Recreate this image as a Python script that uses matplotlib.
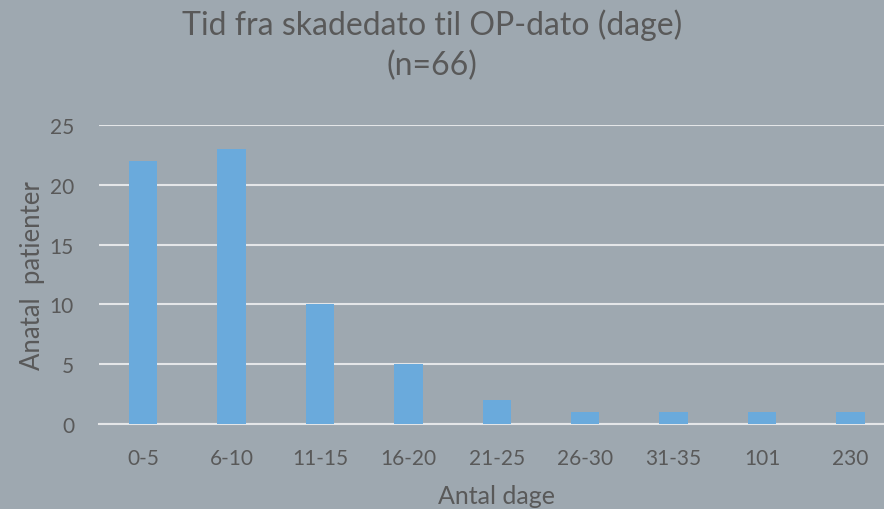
import matplotlib.pyplot as plt

# data
categories = ['0-5', '6-10', '11-15', '16-20', '21-25', '26-30', '31-35', '101', '230']
patients = [22, 23, 10, 5, 2, 1, 1, 1, 1]

bg = '#9ea8b0'
bar_color = '#6aaadc'
text_color = '#595959'

plt.rcParams['font.family'] = ['Lato', 'DejaVu Sans']

fig = plt.figure(figsize=(8.84, 5.10), dpi=100, facecolor=bg)
ax = fig.add_axes([0.112, 0.1667, 0.9, 0.5863], facecolor=bg)

x = range(len(categories))
ax.bar(x, patients, width=0.32, color=bar_color, zorder=3)

ax.set_xlim(-0.5, len(categories) - 0.5)
ax.set_ylim(0, 25)
ax.set_yticks(range(0, 26, 5))
ax.set_xticks(list(x))
ax.set_xticklabels(categories)
ax.grid(axis='y', color='#e4e6e8', linewidth=1.5, zorder=0)
ax.set_axisbelow(True)

for s in ['top', 'right', 'left']:
    ax.spines[s].set_visible(False)
ax.spines['bottom'].set_color('#e4e6e8')
ax.spines['bottom'].set_linewidth(1.5)

ax.tick_params(axis='both', length=0, labelsize=15, labelcolor=text_color)
ax.tick_params(axis='x', pad=17)
ax.tick_params(axis='y', pad=18)

fig.text(497 / 884, 1 - 497 / 510, 'Antal dage', ha='center', va='center',
         fontsize=18, color=text_color)
fig.text(33 / 884, 1 - 276 / 510, 'Anatal  patienter', ha='center', va='center',
         rotation=90, fontsize=18.5, color=text_color)

fig.text(432 / 884, 1 - 35 / 510, 'Tid fra skadedato til OP-dato (dage)',
         ha='center', va='baseline', fontsize=23, color=text_color)
fig.text(432 / 884, 1 - 75 / 510, '(n=66)',
         ha='center', va='baseline', fontsize=23, color=text_color)

fig.savefig('out.png', dpi=100, facecolor=bg)
